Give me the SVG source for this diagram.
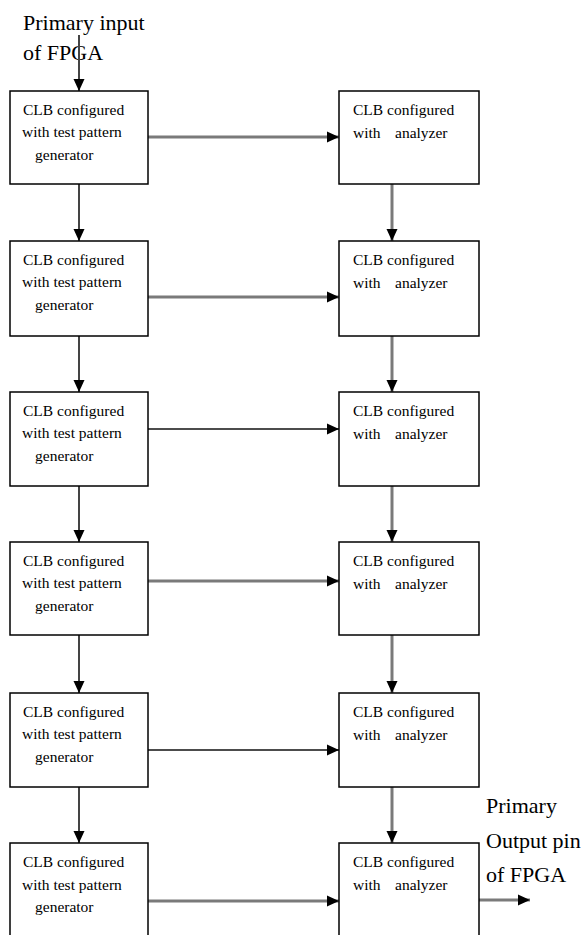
<svg xmlns="http://www.w3.org/2000/svg" width="586" height="935" viewBox="0 0 586 935">
<style>
.box{fill:#fff;stroke:#000;stroke-width:1.5}
.t{font-family:"Liberation Serif","Times New Roman",serif;font-size:15.5px;fill:#000}
.lbl{font-family:"Liberation Serif","Times New Roman",serif;font-size:22px;fill:#000}
.thick{stroke:#7a7a7a;stroke-width:3;fill:none}
.thin{stroke:#111;stroke-width:1.5;fill:none}
.mid{stroke:#444;stroke-width:2;fill:none}
</style>
<defs>
<marker id="ah" markerUnits="userSpaceOnUse" markerWidth="12" markerHeight="12" viewBox="0 0 12 12" refX="12" refY="6" orient="auto">
<path d="M0,0.5 L12,6 L0,11.5 Z" fill="#000"/>
</marker>
</defs>
<rect width="586" height="935" fill="#fff"/>
<g id="labels">
<text class="lbl" x="23" y="30">Primary input</text>
<text class="lbl" x="23" y="60">of FPGA</text>
<text class="lbl" x="486" y="813">Primary</text>
<text class="lbl" x="486" y="848">Output pin</text>
<text class="lbl" x="486" y="882">of FPGA</text>
</g>
<g id="connectors">
<line class="mid" x1="79" y1="35" x2="79" y2="91" marker-end="url(#ah)"/>
<line class="thick" x1="148" y1="137" x2="339" y2="137" marker-end="url(#ah)"/>
<line class="thick" x1="148" y1="297" x2="339" y2="297" marker-end="url(#ah)"/>
<line class="thin" x1="148" y1="429" x2="339" y2="429" marker-end="url(#ah)"/>
<line class="thick" x1="148" y1="581" x2="339" y2="581" marker-end="url(#ah)"/>
<line class="thin" x1="148" y1="750" x2="339" y2="750" marker-end="url(#ah)"/>
<line class="thick" x1="148" y1="901" x2="339" y2="901" marker-end="url(#ah)"/>
<line class="mid" x1="79" y1="184" x2="79" y2="241" marker-end="url(#ah)"/>
<line class="mid" x1="79" y1="336" x2="79" y2="392" marker-end="url(#ah)"/>
<line class="mid" x1="79" y1="486" x2="79" y2="542" marker-end="url(#ah)"/>
<line class="mid" x1="79" y1="635" x2="79" y2="693" marker-end="url(#ah)"/>
<line class="mid" x1="79" y1="787" x2="79" y2="843" marker-end="url(#ah)"/>
<line class="thick" x1="392" y1="184" x2="392" y2="241" marker-end="url(#ah)"/>
<line class="thick" x1="392" y1="336" x2="392" y2="392" marker-end="url(#ah)"/>
<line class="thick" x1="392" y1="486" x2="392" y2="542" marker-end="url(#ah)"/>
<line class="thick" x1="392" y1="635" x2="392" y2="693" marker-end="url(#ah)"/>
<line class="thick" x1="392" y1="787" x2="392" y2="843" marker-end="url(#ah)"/>
<line class="thick" x1="479" y1="900" x2="530" y2="900" marker-end="url(#ah)"/>
</g>
<g id="gen1"><rect class="box" x="10" y="91" width="138" height="93"/><text class="t" x="23" y="115">CLB configured</text><text class="t" x="22" y="137">with test pattern</text><text class="t" x="35" y="160">generator</text></g>
<g id="ana1"><rect class="box" x="339" y="91" width="140" height="93"/><text class="t" x="353" y="115">CLB configured</text><text class="t" y="138"><tspan x="353">with</tspan><tspan x="395">analyzer</tspan></text></g>
<g id="gen2"><rect class="box" x="10" y="241" width="138" height="95"/><text class="t" x="23" y="265">CLB configured</text><text class="t" x="22" y="287">with test pattern</text><text class="t" x="35" y="310">generator</text></g>
<g id="ana2"><rect class="box" x="339" y="241" width="140" height="95"/><text class="t" x="353" y="265">CLB configured</text><text class="t" y="288"><tspan x="353">with</tspan><tspan x="395">analyzer</tspan></text></g>
<g id="gen3"><rect class="box" x="10" y="392" width="138" height="94"/><text class="t" x="23" y="416">CLB configured</text><text class="t" x="22" y="438">with test pattern</text><text class="t" x="35" y="461">generator</text></g>
<g id="ana3"><rect class="box" x="339" y="392" width="140" height="94"/><text class="t" x="353" y="416">CLB configured</text><text class="t" y="439"><tspan x="353">with</tspan><tspan x="395">analyzer</tspan></text></g>
<g id="gen4"><rect class="box" x="10" y="542" width="138" height="93"/><text class="t" x="23" y="566">CLB configured</text><text class="t" x="22" y="588">with test pattern</text><text class="t" x="35" y="611">generator</text></g>
<g id="ana4"><rect class="box" x="339" y="542" width="140" height="93"/><text class="t" x="353" y="566">CLB configured</text><text class="t" y="589"><tspan x="353">with</tspan><tspan x="395">analyzer</tspan></text></g>
<g id="gen5"><rect class="box" x="10" y="693" width="138" height="94"/><text class="t" x="23" y="717">CLB configured</text><text class="t" x="22" y="739">with test pattern</text><text class="t" x="35" y="762">generator</text></g>
<g id="ana5"><rect class="box" x="339" y="693" width="140" height="94"/><text class="t" x="353" y="717">CLB configured</text><text class="t" y="740"><tspan x="353">with</tspan><tspan x="395">analyzer</tspan></text></g>
<g id="gen6"><rect class="box" x="10" y="843" width="138" height="100"/><text class="t" x="23" y="867">CLB configured</text><text class="t" x="22" y="890">with test pattern</text><text class="t" x="35" y="912">generator</text></g>
<g id="ana6"><rect class="box" x="339" y="843" width="140" height="100"/><text class="t" x="353" y="867">CLB configured</text><text class="t" y="890"><tspan x="353">with</tspan><tspan x="395">analyzer</tspan></text></g>
</svg>
